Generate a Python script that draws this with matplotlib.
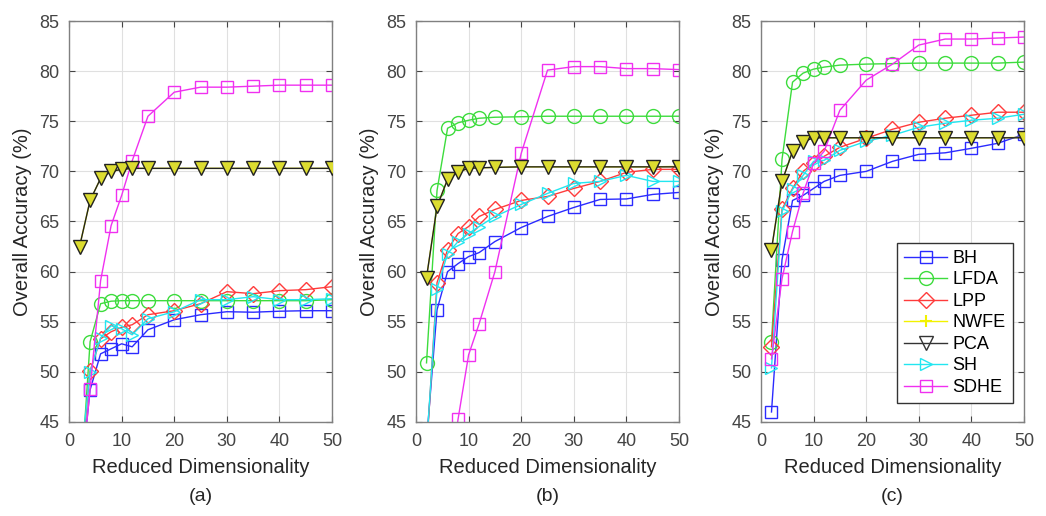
import numpy as np
import matplotlib.pyplot as plt
from matplotlib.lines import Line2D

plt.rcParams['font.family'] = ['Liberation Sans', 'DejaVu Sans']

dims = [2, 4, 6, 8, 10, 12, 15, 20, 25, 30, 35, 40, 45, 50]
methods = ['BH', 'LFDA', 'LPP', 'NWFE', 'PCA', 'SH', 'SDHE']

# panel (a)
bh_a = [38.0, 48.2, 51.8, 52.3, 52.8, 52.5, 54.2, 55.2, 55.7, 56.0, 55.95, 56.05, 56.1, 56.1]
lfda_a = [37.0, 53.0, 56.8, 57.05, 57.1, 57.1, 57.1, 57.1, 57.1, 57.1, 57.1, 57.1, 57.1, 57.2]
lpp_a = [39.0, 50.1, 53.3, 54.0, 54.45, 54.7, 55.7, 56.1, 56.8, 58.0, 57.8, 58.1, 58.2, 58.5]
nwfe_a = [62.5, 67.1, 69.3, 70.0, 70.2, 70.3, 70.3, 70.3, 70.3, 70.3, 70.3, 70.3, 70.3, 70.3]
pca_a = [62.5, 67.1, 69.3, 70.0, 70.2, 70.3, 70.3, 70.3, 70.3, 70.3, 70.3, 70.3, 70.3, 70.3]
sh_a = [40.0, 50.0, 53.4, 54.6, 54.3, 53.7, 55.3, 56.0, 57.2, 57.2, 57.5, 57.2, 57.2, 57.3]
sdhe_a = [37.5, 48.3, 59.1, 64.6, 67.6, 71.05, 75.5, 77.9, 78.4, 78.4, 78.5, 78.6, 78.6, 78.6]

# panel (b)
bh_b = [43.0, 56.2, 60.0, 60.8, 61.5, 61.9, 63.0, 64.4, 65.5, 66.4, 67.2, 67.25, 67.7, 67.9]
lfda_b = [50.9, 68.1, 74.3, 74.85, 75.1, 75.3, 75.4, 75.45, 75.5, 75.5, 75.5, 75.5, 75.5, 75.5]
lpp_b = [42.0, 58.9, 62.2, 63.8, 64.5, 65.5, 66.2, 67.1, 67.5, 68.3, 69.0, 69.9, 70.2, 70.2]
nwfe_b = [59.4, 66.5, 69.2, 69.95, 70.3, 70.35, 70.4, 70.45, 70.45, 70.45, 70.45, 70.45, 70.45, 70.5]
pca_b = [59.4, 66.5, 69.2, 69.95, 70.3, 70.35, 70.4, 70.45, 70.45, 70.45, 70.45, 70.45, 70.45, 70.45]
sh_b = [42.5, 58.3, 61.8, 63.0, 63.8, 64.5, 65.5, 66.7, 67.8, 68.8, 69.0, 69.6, 69.0, 69.0]
sdhe_b = [30.0, 33.0, 38.0, 45.3, 51.7, 54.8, 60.0, 71.8, 80.1, 80.45, 80.45, 80.25, 80.25, 80.15]

# panel (c)
bh_c = [46.0, 61.2, 67.1, 67.6, 68.3, 69.0, 69.6, 70.0, 71.0, 71.7, 71.85, 72.3, 72.8, 73.7]
lfda_c = [53.0, 71.2, 78.9, 79.8, 80.2, 80.4, 80.6, 80.7, 80.75, 80.8, 80.8, 80.8, 80.8, 80.9]
lpp_c = [52.5, 66.2, 68.3, 70.0, 70.8, 71.5, 72.4, 73.3, 74.2, 74.9, 75.3, 75.6, 75.9, 75.9]
nwfe_c = [62.2, 69.0, 72.0, 72.95, 73.35, 73.35, 73.35, 73.35, 73.35, 73.35, 73.35, 73.35, 73.35, 73.4]
pca_c = [62.2, 69.0, 72.0, 72.95, 73.35, 73.35, 73.35, 73.35, 73.35, 73.35, 73.35, 73.35, 73.35, 73.35]
sh_c = [50.4, 66.0, 68.2, 69.6, 71.0, 71.1, 72.1, 73.0, 73.6, 74.4, 74.8, 75.1, 75.3, 75.7]
sdhe_c = [51.3, 59.3, 64.0, 67.8, 70.8, 72.0, 76.1, 79.1, 80.7, 82.6, 83.2, 83.2, 83.3, 83.4]

panels = [
    ('(a)', [bh_a, lfda_a, lpp_a, nwfe_a, pca_a, sh_a, sdhe_a]),
    ('(b)', [bh_b, lfda_b, lpp_b, nwfe_b, pca_b, sh_b, sdhe_b]),
    ('(c)', [bh_c, lfda_c, lpp_c, nwfe_c, pca_c, sh_c, sdhe_c]),
]

colors = ['#2b2bff', '#3ddc3d', '#ff3b3b', '#f2f200', '#222222', '#22e6f0', '#f030f0']
markers = ['s', 'o', 'D', '*', 'v', '>', 's']
msizes = [8, 10, 8, 6, 10, 9, 8]

fig = plt.figure(figsize=(10.46, 5.16), dpi=100)
lefts = [0.066, 0.3977, 0.7275]

for k, (cap, series) in enumerate(panels):
    ax = fig.add_axes([lefts[k], 0.1822, 0.2515, 0.7771])
    for i, y in enumerate(series):
        if methods[i] == 'PCA':
            ax.plot(dims, y, color=colors[i], lw=1, marker='v', ms=msizes[i],
                    mfc='#dcdc30', mec='#222222', mew=1, zorder=3)
        elif methods[i] == 'NWFE':
            ax.plot(dims, y, color=colors[i], lw=1, marker='*', ms=msizes[i],
                    zorder=2)
        else:
            ax.plot(dims, y, color=colors[i], lw=1, marker=markers[i],
                    ms=msizes[i], mfc='none', mec=colors[i], mew=1, zorder=2)
    ax.set_xlim(0, 50)
    ax.set_ylim(45, 85)
    ax.set_xticks(range(0, 51, 10))
    ax.set_yticks(range(45, 86, 5))
    ax.grid(True, color='#e0e0e0', lw=0.8)
    ax.set_axisbelow(True)
    ax.tick_params(direction='in', top=True, right=True, labelsize=13,
                   colors='#444444', length=4, width=0.8)
    ax.tick_params(axis='x', pad=8)
    ax.tick_params(axis='y', pad=7)
    for s in ax.spines.values():
        s.set_color('#808080')
        s.set_linewidth(1)
    ax.set_xlabel('Reduced Dimensionality', fontsize=14.5, color='#262626', labelpad=6)
    ax.set_ylabel('Overall Accuracy (%)', fontsize=14.5, color='#262626', labelpad=5)
    ax.text(0.5, -0.187, cap, transform=ax.transAxes, ha='center', va='center',
            fontsize=14, color='#262626')
    if k == 2:
        handles = []
        for i, m in enumerate(methods):
            if m == 'NWFE':
                h = Line2D([], [], color=colors[i], lw=1, marker='+', ms=9, mew=1.5)
            elif m == 'PCA':
                h = Line2D([], [], color='#333333', lw=1, marker='v', ms=10,
                           mfc='none', mec='#333333')
            else:
                h = Line2D([], [], color=colors[i], lw=1, marker=markers[i],
                           ms=msizes[i], mfc='none', mec=colors[i])
            handles.append(h)
        leg = ax.legend(handles, methods, loc='lower right', fontsize=13,
                        handlelength=2.4, labelspacing=0.25, borderpad=0.4,
                        handletextpad=0.3, fancybox=False, framealpha=1,
                        borderaxespad=0, bbox_to_anchor=(0.958, 0.047))
        leg.get_frame().set_edgecolor('#333333')
        leg.get_frame().set_linewidth(1)

fig.savefig('out.png', dpi=100)
